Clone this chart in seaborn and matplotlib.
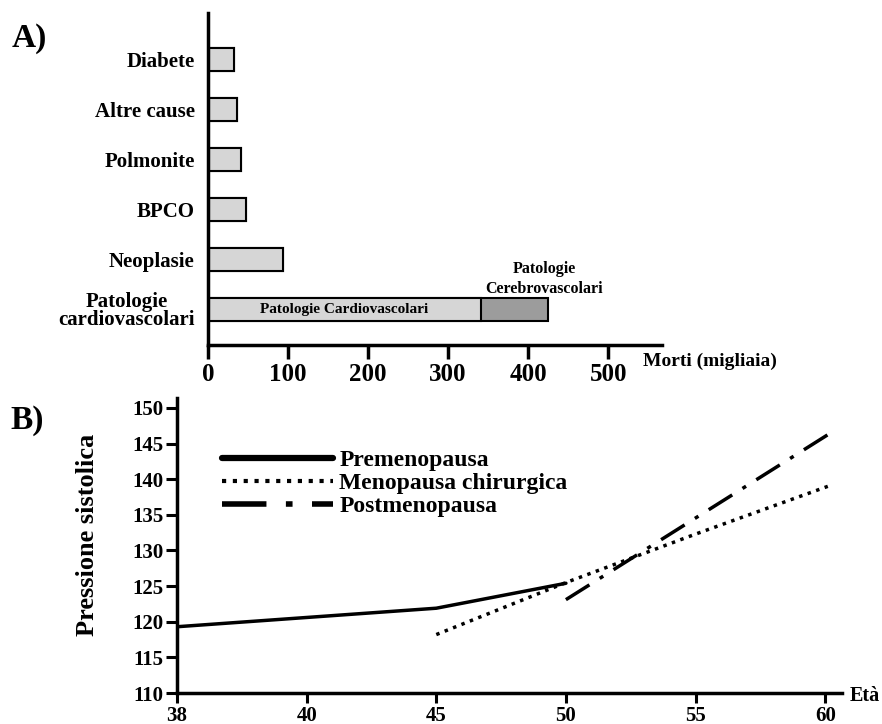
import numpy as np
import pandas as pd
import matplotlib
matplotlib.use("Agg")
import matplotlib.pyplot as plt
import seaborn as sns

# plain black-on-white look, like a printed figure
sns.set_theme(style="ticks", rc={"text.color": "black", "axes.labelcolor": "black",
                                 "xtick.color": "black", "ytick.color": "black",
                                 "axes.edgecolor": "black"})
plt.rcParams["font.family"] = ["Liberation Serif", "DejaVu Serif"]
plt.rcParams["font.weight"] = "bold"

# Panel A: deaths (thousands) by cause
causes = ["Diabete", "Altre cause", "Polmonite", "BPCO", "Neoplasie", "Patologie\ncardiovascolari"]
deaths_total = [32, 36, 41, 48, 94, 425]
deaths_cardio = [32, 36, 41, 48, 94, 341]
ticks_a = [0, 100, 200, 300, 400, 500]

# Panel B: systolic pressure by age
age_ticks = [38, 40, 45, 50, 55, 60]
pre_age = [38, 45, 50]
pre_sbp = [119.3, 121.9, 125.4]
chir_age = [45, 50, 55, 60.1]
chir_sbp = [118.2, 125.5, 132.3, 139.0]
post_age = [50, 60.3]
post_sbp = [123.1, 146.7]
sbp_ticks = [110, 115, 120, 125, 130, 135, 140, 145, 150]


def age_pos(a):
    # the age axis has evenly spaced ticks that are not evenly spaced in years
    return np.interp(a, age_ticks + [65], range(len(age_ticks) + 1))


fig = plt.figure(figsize=(8.82, 7.24), dpi=100)
axA = fig.add_axes([0.2358, 0.5235, 0.5147, 0.4586])
axB = fig.add_axes([0.2007, 0.0428, 0.754, 0.4075])

#--- Panel A
dfA = pd.DataFrame({"causa": causes, "totale": deaths_total, "cardio": deaths_cardio})
sns.barplot(data=dfA, y="causa", x="totale", color="#9c9c9c", saturation=1,
            width=0.46, edgecolor="black", linewidth=1.5, ax=axA)
sns.barplot(data=dfA, y="causa", x="cardio", color="#d6d6d6", saturation=1,
            width=0.46, edgecolor="black", linewidth=1.5, ax=axA)
axA.set(xlabel="", ylabel="")
axA.set_xlim(0, 567)
axA.set_ylim(5.7, -0.94)
axA.set_xticks(ticks_a)
sns.despine(ax=axA)
for s in ["left", "bottom"]:
    axA.spines[s].set_linewidth(2.5)
axA.tick_params(axis="y", length=0, pad=9.5, labelsize=15)
axA.tick_params(axis="x", length=10, width=2.5, pad=3, labelsize=18)
for lab in axA.get_yticklabels():
    lab.set_multialignment("center")
    lab.set_linespacing(0.85)

axA.text(170, 5, "Patologie Cardiovascolari", ha="center", va="center", fontsize=11)
axA.text(420, 4.74, "Patologie\nCerebrovascolari", ha="center", va="bottom",
         fontsize=11.5, fontweight="semibold", linespacing=1.35)
fig.text(643 / 882, 1 - 361 / 724, "Morti (migliaia)", ha="left", va="center", fontsize=14)
fig.text(12 / 882, 1 - 39 / 724, "A)", ha="left", va="center", fontsize=24)

#--- Panel B
sns.lineplot(x=age_pos(pre_age), y=pre_sbp, color="black", lw=2.5,
             label="Premenopausa", ax=axB)
sns.lineplot(x=age_pos(chir_age), y=chir_sbp, color="black", lw=2.5,
             linestyle=(0, (1, 1.6)), label="Menopausa chirurgica", ax=axB)
sns.lineplot(x=age_pos(post_age), y=post_sbp, color="black", lw=2.5,
             linestyle=(0, (8, 3.5, 1.2, 3.5)), label="Postmenopausa", ax=axB)

axB.set_xticks(range(len(age_ticks)), labels=age_ticks)
axB.set_yticks(sbp_ticks)
axB.set_xlim(0, 5.13)
axB.set_ylim(110, 151.4)
sns.despine(ax=axB)
for s in ["left", "bottom"]:
    axB.spines[s].set_linewidth(2.5)
axB.tick_params(axis="y", length=8, width=2.2, pad=2, labelsize=15)
axB.tick_params(axis="x", length=7, width=2.2, pad=2, labelsize=15)
leg = axB.legend(loc="upper left", bbox_to_anchor=(0.068, 0.825), frameon=False,
                 prop={"size": 17, "weight": "bold"}, handlelength=4.7, handletextpad=0.25,
                 labelspacing=0.06, borderaxespad=0, borderpad=0)
# legend keys are drawn heavier than the curves
leg.get_lines()[0].set_linewidth(4.5)
leg.get_lines()[1].set_linewidth(3)
leg.get_lines()[2].set_linewidth(4)

fig.text(88 / 882, 1 - 535 / 724, "Pressione sistolica", rotation=90,
         ha="center", va="center", fontsize=19)
fig.text(850 / 882, 1 - 696 / 724, "Età", ha="left", va="center", fontsize=14.5)
fig.text(10 / 882, 1 - 420 / 724, "B)", ha="left", va="center", fontsize=24)

fig.savefig("out.png", dpi=100, facecolor="white")
